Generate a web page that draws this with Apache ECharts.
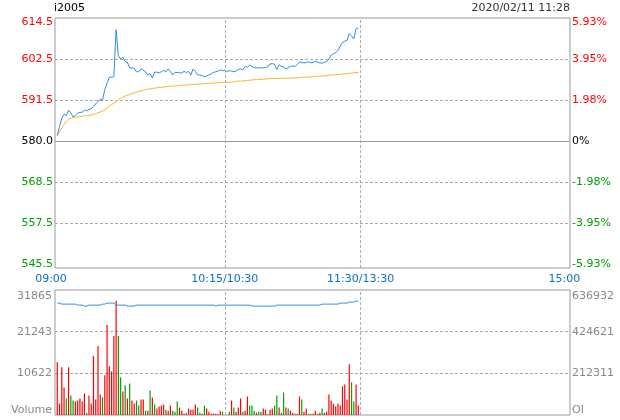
<!DOCTYPE html>
<html>
<head>
<meta charset="utf-8">
<script src="https://cdn.jsdelivr.net/npm/echarts@6/dist/echarts.min.js"></script>
<style>
    html, body { margin: 0; padding: 0; background: #fff; }
    #myChart { width: 620px; height: 420px; }
</style>
</head>
<body>
<div id="myChart"></div>
<script>
// i2005 分时 (昨结 580)
var symbol = 'i2005';
var stamp = '2020/02/11 11:28';
var preClose = 580;

// minute slots on the 09:00-15:00 line (225 trading minutes)
var timeSlots = [0, 75, 135, 225];
var timeLabels = ['09:00', '10:15/10:30', '11:30/13:30', '15:00'];
var breakSlots = [75, 135];

var priceTicks = [545.5, 557, 568.5, 580, 591.5, 603, 614.5];
var priceLabels = ['545.5', '557.5', '568.5', '580.0', '591.5', '602.5', '614.5'];
var pctLabels = ['-5.93%', '-3.95%', '-1.98%', '0%', '1.98%', '3.95%', '5.93%'];
var volMax = 31865;
var volLabels = ['Volume', '10622', '21243', '31865'];
var oiMax = 636932;
var oiLabels = ['OI', '212311', '424621', '636932'];

var price = [
    581.5,584.0,586.4,587.5,587.1,588.6,587.8,586.7,587.2,587.8,
    588.0,588.0,588.7,588.4,588.9,589.0,589.7,590.4,591.1,591.7,
    591.5,594.4,596.2,597.8,597.9,598.0,611.2,603.9,603.0,603.5,
    602.2,602.0,600.5,600.5,600.4,599.4,599.4,600.3,599.8,599.4,
    598.5,598.9,597.7,599.3,599.3,599.1,599.4,599.8,599.4,600.2,
    599.5,598.5,599.2,599.2,599.1,599.1,599.5,599.2,599.5,598.5,
    600.2,599.5,598.5,598.5,598.3,598.0,598.2,598.5,598.8,599.2,
    599.4,599.6,599.9,599.7,599.9,599.5,599.7,599.6,599.4,599.6,
    600.1,600.2,599.9,600.9,600.7,601.3,600.9,600.6,600.5,600.5,
    600.5,600.5,600.6,600.8,601.6,601.7,601.5,600.0,601.4,600.9,
    600.7,600.2,600.6,600.9,601.0,600.9,601.4,602.2,602.0,601.9,
    602.0,602.2,601.9,602.0,602.3,602.1,601.9,601.8,602.1,602.2,
    603.0,604.1,604.5,604.8,605.4,606.6,607.6,608.0,608.2,610.1,
    609.5,608.6,611.5,611.7
];
var avgPrice = [
    581.5,582.6,583.6,584.6,585.5,586.1,586.3,586.5,586.6,586.7,
    586.8,586.9,587.0,587.0,587.1,587.3,587.4,587.6,587.9,588.1,
    588.3,588.7,589.2,589.7,590.2,590.6,591.1,591.5,591.9,592.3,
    592.6,592.8,593.0,593.3,593.5,593.7,593.9,594.0,594.2,594.4,
    594.5,594.6,594.7,594.8,594.9,595.0,595.0,595.1,595.2,595.3,
    595.3,595.4,595.4,595.5,595.5,595.6,595.6,595.7,595.7,595.8,
    595.8,595.9,595.9,596.0,596.0,596.0,596.1,596.1,596.2,596.2,
    596.3,596.3,596.4,596.4,596.4,596.4,596.5,596.5,596.6,596.7,
    596.8,596.8,596.8,596.9,597.0,597.0,597.1,597.2,597.2,597.2,
    597.3,597.3,597.4,597.4,597.5,597.5,597.5,597.5,597.5,597.6,
    597.6,597.6,597.6,597.6,597.7,597.7,597.7,597.8,597.8,597.9,
    597.9,597.9,598.0,598.0,598.1,598.1,598.2,598.2,598.3,598.3,
    598.4,598.5,598.5,598.6,598.6,598.7,598.8,598.8,598.9,599.0,
    599.0,599.1,599.2,599.2
];
var volume = [
    13450,2910,12170,7030,4200,12170,4970,3690,3430,3690,
    4200,3430,5490,600,4970,2910,15000,3940,17570,5230,
    4460,10110,22970,12430,11140,20140,29140,20140,9600,6000,
    7540,4200,8060,3690,2910,3690,2400,3940,3940,1110,
    1110,6260,4460,2660,1630,2140,2400,2660,1370,1110,
    2400,1110,860,3430,1890,1110,340,600,1630,1370,
    1370,2660,1890,600,340,2400,1630,860,340,340,
    340,200,1110,860,0,0,860,3690,1890,860,
    1890,4200,860,1110,4710,2400,2400,1110,600,860,
    860,1630,1370,200,1370,1630,2400,4970,1890,600,
    5740,1890,1630,1110,600,340,340,4710,3940,860,
    1630,200,340,340,1110,340,600,1630,600,860,
    5230,3690,2910,2140,2910,2400,7290,7800,3940,12940,
    8310,3430,7800,2400
];
// 1 = 上涨(红) 0 = 下跌(绿)
var volUp = [
    1,1,1,1,0,1,0,0,1,1, 1,1,1,0,1,1,1,1,1,1,
    0,1,1,1,1,1,1,0,0,1, 0,1,0,1,1,0,0,1,1,0,
    1,0,1,0,1,1,1,1,0,1, 1,0,0,0,1,1,1,0,1,1,
    1,1,0,0,1,0,1,1,1,1, 1,1,1,0,1,1,0,1,0,1,
    1,1,0,1,1,0,0,0,1,0, 0,1,1,1,1,1,0,0,1,0,
    0,1,0,1,1,0,1,1,0,1, 1,1,0,1,1,0,1,0,1,1,
    1,1,1,1,1,1,1,1,1,1, 0,0,1,1
];
var openInt = [
    570200,570200,565000,565000,565000,565000,565000,565000,565000,559900,
    559900,559900,554800,554800,559900,559900,559900,559900,559900,559900,
    565000,565000,570200,570200,570200,570200,559900,559900,559900,559900,
    559900,554800,554800,554800,554800,559900,559900,559900,559900,559900,
    559900,559900,559900,559900,559900,559900,559900,559900,559900,559900,
    559900,559900,559900,559900,559900,559900,559900,559900,559900,559900,
    559900,559900,559900,559900,559900,559900,559900,559900,559900,559900,
    554800,559900,559900,559900,559900,559900,559900,559900,559900,559900,
    559900,559900,559900,559900,559900,559900,554800,554800,554800,554800,
    554800,554800,554800,554800,554800,554800,554800,559900,559900,559900,
    559900,559900,559900,559900,559900,559900,559900,559900,559900,559900,
    559900,559900,559900,559900,559900,559900,559900,565000,565000,565000,
    565000,565000,565000,565000,565000,570200,570200,570200,570200,575300,
    575300,575300,580400,580400
];

var RED = '#ff0000', GREEN = '#00a000', BLUE = '#2b8ee6', GRID = '#999', DASH = '#aaa';
var FONT = 'DejaVu Sans';

function nearest(list, v) {
    var k = 0;
    for (var i = 1; i < list.length; i++) {
        if (Math.abs(list[i] - v) < Math.abs(list[k] - v)) k = i;
    }
    return k;
}
function pairs(arr) {
    return arr.map(function (v, i) { return [i + 1, v]; });
}
var volTicks = [0, volMax / 3, volMax * 2 / 3, volMax];
var oiTicks = [0, oiMax / 3, oiMax * 2 / 3, oiMax];

function priceFmt(labels) {
    return function (value) {
        var k = nearest(priceTicks, value);
        var s = k > 3 ? 'up' : (k < 3 ? 'dn' : 'flat');
        if (k === 6) s = 'upTop';
        return '{' + s + '|' + labels[k] + '}';
    };
}
var priceRich = {
    up: {color: RED}, upTop: {color: RED, padding: [9, 0, 0, 0]},
    dn: {color: GREEN}, flat: {color: '#000'}
};
function subFmt(ticks, labels) {
    return function (value) {
        var k = nearest(ticks, value);
        var s = k === 3 ? 'top' : (k === 0 ? 'bot' : 'mid');
        return '{' + s + '|' + labels[k] + '}';
    };
}
var subRich = {
    top: {color: '#888', padding: [13, 0, 0, 0]},
    bot: {color: '#888', padding: [0, 0, 10, 0]},
    mid: {color: '#888'}
};

var dashLine = {show: true, lineStyle: {color: DASH, type: [3, 2], width: 1}};
var breakMark = {
    silent: true, symbol: 'none', label: {show: false},
    lineStyle: {color: DASH, type: [3, 2], width: 1},
    data: breakSlots.map(function (s) { return {xAxis: s}; })
};

var option = {
    animation: false,
    backgroundColor: '#fff',
    textStyle: {fontFamily: FONT},
    title: [
        {text: symbol, left: 54, top: 3, padding: 0,
            textStyle: {fontSize: 11, fontWeight: 'normal', color: '#000', fontFamily: FONT}},
        {text: stamp, right: 50, top: 3, padding: 0,
            textStyle: {fontSize: 11, fontWeight: 'normal', color: '#333', fontFamily: FONT}}
    ],
    grid: [
        {left: 55, right: 50, top: 18, height: 250, show: true, borderColor: GRID, borderWidth: 1},
        {left: 55, right: 50, top: 290, height: 125, show: true, borderColor: GRID, borderWidth: 1}
    ],
    xAxis: [
        {type: 'value', gridIndex: 0, min: 0, max: 227.5,
            axisLine: {show: false}, splitLine: {show: false},
            axisTick: {show: false, customValues: timeSlots},
            axisLabel: {customValues: timeSlots, margin: 6, fontSize: 11, fontFamily: FONT, color: '#0a6fc2',
                formatter: function (v) {
                    var k = nearest(timeSlots, v);
                    return k === 0 ? '{first|' + timeLabels[k] + '}' : timeLabels[k];
                },
                rich: {first: {color: '#0a6fc2', padding: [0, 8, 0, 0]}}}},
        {type: 'value', gridIndex: 1, min: 0, max: 227.5,
            axisLine: {show: false}, splitLine: {show: false}, axisTick: {show: false}, axisLabel: {show: false}}
    ],
    yAxis: [
        {type: 'value', gridIndex: 0, min: 544.3, max: 614.5, position: 'left',
            axisLine: {show: false},
            axisTick: {show: false, customValues: [557, 568.5, 591.5, 603]},
            splitLine: dashLine,
            axisLabel: {customValues: priceTicks, margin: 2, fontSize: 11, fontFamily: FONT,
                formatter: priceFmt(priceLabels), rich: priceRich}},
        {type: 'value', gridIndex: 0, min: 544.3, max: 614.5, position: 'right',
            axisLine: {show: false}, axisTick: {show: false}, splitLine: {show: false},
            axisLabel: {customValues: priceTicks, margin: 2, fontSize: 11, fontFamily: FONT,
                formatter: priceFmt(pctLabels), rich: priceRich}},
        {type: 'value', gridIndex: 1, min: 0, max: volMax, position: 'left',
            axisLine: {show: false},
            axisTick: {show: false, customValues: [volTicks[1], volTicks[2]]},
            splitLine: dashLine,
            axisLabel: {customValues: volTicks, margin: 3, fontSize: 11, fontFamily: FONT,
                formatter: subFmt(volTicks, volLabels), rich: subRich}},
        {type: 'value', gridIndex: 1, min: 0, max: oiMax, position: 'right',
            axisLine: {show: false}, axisTick: {show: false}, splitLine: {show: false},
            axisLabel: {customValues: oiTicks, margin: 2, fontSize: 11, fontFamily: FONT,
                formatter: subFmt(oiTicks, oiLabels), rich: subRich}}
    ],
    series: [
        {name: '价格', type: 'line', xAxisIndex: 0, yAxisIndex: 0, data: pairs(price),
            showSymbol: false, lineStyle: {color: BLUE, width: 1}, itemStyle: {color: BLUE}, z: 4,
            markLine: {
                silent: true, symbol: 'none', label: {show: false},
                lineStyle: {color: GRID, type: 'solid', width: 1},
                data: [{yAxis: preClose}].concat(breakSlots.map(function (s) {
                    return {xAxis: s, lineStyle: {color: DASH, type: [3, 2], width: 1}};
                }))
            }},
        {name: '均价', type: 'line', xAxisIndex: 0, yAxisIndex: 0, data: pairs(avgPrice),
            showSymbol: false, lineStyle: {color: '#fdb42b', width: 1}, itemStyle: {color: '#fdb42b'}, z: 3},
        {name: '成交量', type: 'bar', xAxisIndex: 1, yAxisIndex: 2, barWidth: 1.2,
            data: volume.map(function (v, i) {
                return {value: [i + 1, v], itemStyle: {color: volUp[i] ? RED : GREEN}};
            }),
            markLine: breakMark},
        {name: '持仓', type: 'line', xAxisIndex: 1, yAxisIndex: 3, data: pairs(openInt),
            showSymbol: false, lineStyle: {color: BLUE, width: 1}, itemStyle: {color: BLUE}, z: 4}
    ]
};

var myChart = echarts.init(document.getElementById('myChart'));
myChart.setOption(option);
</script>
</body>
</html>
